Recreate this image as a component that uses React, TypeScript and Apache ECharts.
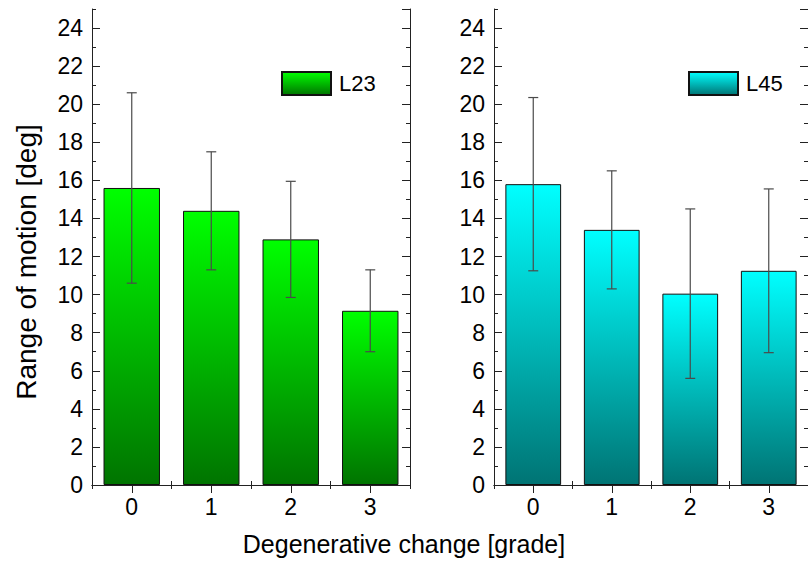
import React, { useEffect, useRef } from "react";
import * as echarts from "echarts";

const categories = ["0", "1", "2", "3"];
const l23Mean = [15.6, 14.4, 12.9, 9.15];
const l23Sd = [5.0, 3.1, 3.05, 2.15];
const l45Mean = [15.8, 13.4, 10.05, 11.25];
const l45Sd = [4.55, 3.1, 4.45, 4.3];
const yMin = 0;
const yMax = 25;
const yMajor = 2;
const yMinor = 1;

const FONT = "'Liberation Sans', Arial, sans-serif";

export default function App() {
  const ref = useRef<HTMLDivElement>(null);
  useEffect(() => {
    document.body.style.margin = "0";
    const chart = echarts.init(ref.current!, null, { renderer: "svg" });

    const axisLine = { show: true, lineStyle: { color: "#222", width: 1 } };
    const mkX = (grid: number, pos: "bottom" | "top", major: boolean, labels: boolean) => ({
      type: "category",
      gridIndex: grid,
      position: pos,
      data: categories,
      axisLine: major ? axisLine : { show: false },
      axisTick: {
        show: true,
        inside: true,
        alignWithLabel: major,
        length: major ? 8 : 4,
        lineStyle: { color: "#222", width: 1 },
      },
      axisLabel: labels
        ? { show: true, fontSize: 23, color: "#000", fontFamily: FONT, margin: 10 }
        : { show: false },
      splitLine: { show: false },
    });
    const mkY = (grid: number, pos: "left" | "right", major: boolean, labels: boolean) => ({
      type: "value",
      gridIndex: grid,
      position: pos,
      min: yMin,
      max: yMax,
      interval: major ? yMajor : yMinor,
      axisLine: major ? axisLine : { show: false },
      axisTick: {
        show: true,
        inside: true,
        length: major ? 8 : 4,
        lineStyle: { color: "#222", width: 1 },
      },
      axisLabel: labels
        ? {
            show: true,
            fontSize: 23,
            color: "#000",
            fontFamily: FONT,
            margin: 9,
            showMaxLabel: false,
            formatter: (v: number) => (v % 2 === 0 ? String(v) : ""),
          }
        : { show: false },
      splitLine: { show: false },
    });

    const xAxes: any[] = [];
    const yAxes: any[] = [];
    [0, 1].forEach((g) => {
      xAxes.push(mkX(g, "bottom", true, true));
      xAxes.push(mkX(g, "bottom", false, false));
      xAxes.push(mkX(g, "top", true, false));
      xAxes.push(mkX(g, "top", false, false));
      yAxes.push(mkY(g, "left", true, true));
      yAxes.push(mkY(g, "left", false, false));
      yAxes.push(mkY(g, "right", true, false));
      yAxes.push(mkY(g, "right", false, false));
    });

    const grad = (top: string, bottom: string) =>
      new echarts.graphic.LinearGradient(0, 0, 0, 1, [
        { offset: 0, color: top },
        { offset: 1, color: bottom },
      ]);

    const errRender = (params: any, api: any) => {
      const x = api.value(0);
      const hi = api.coord([x, api.value(1)]);
      const lo = api.coord([x, api.value(2)]);
      const hw = 5;
      const style = { stroke: "#4a4a4a", lineWidth: 1.2 };
      return {
        type: "group",
        children: [
          { type: "line", shape: { x1: hi[0], y1: hi[1], x2: lo[0], y2: lo[1] }, style },
          { type: "line", shape: { x1: hi[0] - hw, y1: hi[1], x2: hi[0] + hw, y2: hi[1] }, style },
          { type: "line", shape: { x1: lo[0] - hw, y1: lo[1], x2: lo[0] + hw, y2: lo[1] }, style },
        ],
      };
    };

    const errData = (mean: number[], sd: number[]) =>
      mean.map((m, i) => [i, m + sd[i], m - sd[i]]);

    const legendCommon = {
      top: 71,
      padding: 0,
      icon: "rect",
      itemWidth: 49,
      itemHeight: 23,
      selectedMode: false,
      textStyle: { fontSize: 22, color: "#000", fontFamily: FONT, padding: [0, 0, 0, 3] },
    };

    chart.setOption({
      animation: false,
      grid: [
        { left: 92, top: 9, width: 318, height: 476 },
        { left: 494, top: 9, width: 315, height: 476 },
      ],
      xAxis: xAxes,
      yAxis: yAxes,
      legend: [
        { ...legendCommon, left: 281, data: ["L23"] },
        { ...legendCommon, left: 688, data: ["L45"] },
      ],
      series: [
        {
          name: "L23",
          type: "bar",
          xAxisIndex: 0,
          yAxisIndex: 0,
          data: l23Mean,
          barWidth: "71%",
          itemStyle: { color: grad("#00ff00", "#007400"), borderColor: "#111", borderWidth: 1 },
        },
        {
          name: "L45",
          type: "bar",
          xAxisIndex: 4,
          yAxisIndex: 4,
          data: l45Mean,
          barWidth: "71%",
          itemStyle: { color: grad("#00ffff", "#007474"), borderColor: "#111", borderWidth: 1 },
        },
        {
          name: "L23err",
          type: "custom",
          xAxisIndex: 0,
          yAxisIndex: 0,
          renderItem: errRender,
          data: errData(l23Mean, l23Sd),
          encode: { x: 0, y: [1, 2] },
          z: 10,
        },
        {
          name: "L45err",
          type: "custom",
          xAxisIndex: 4,
          yAxisIndex: 4,
          renderItem: errRender,
          data: errData(l45Mean, l45Sd),
          encode: { x: 0, y: [1, 2] },
          z: 10,
        },
      ],
      graphic: [
        {
          type: "text",
          left: "center",
          top: 531,
          style: {
            text: "Degenerative change [grade]",
            font: `25px ${FONT}`,
            fill: "#000",
          },
        },
        {
          type: "text",
          x: 12,
          y: 262,
          rotation: Math.PI / 2,
          style: {
            text: "Range of motion [deg]",
            font: `28px ${FONT}`,
            fill: "#000",
            align: "center",
            verticalAlign: "top",
          },
        },
      ],
    });
    return () => chart.dispose();
  }, []);
  return <div ref={ref} style={{ width: 808, height: 571 }} />;
}
